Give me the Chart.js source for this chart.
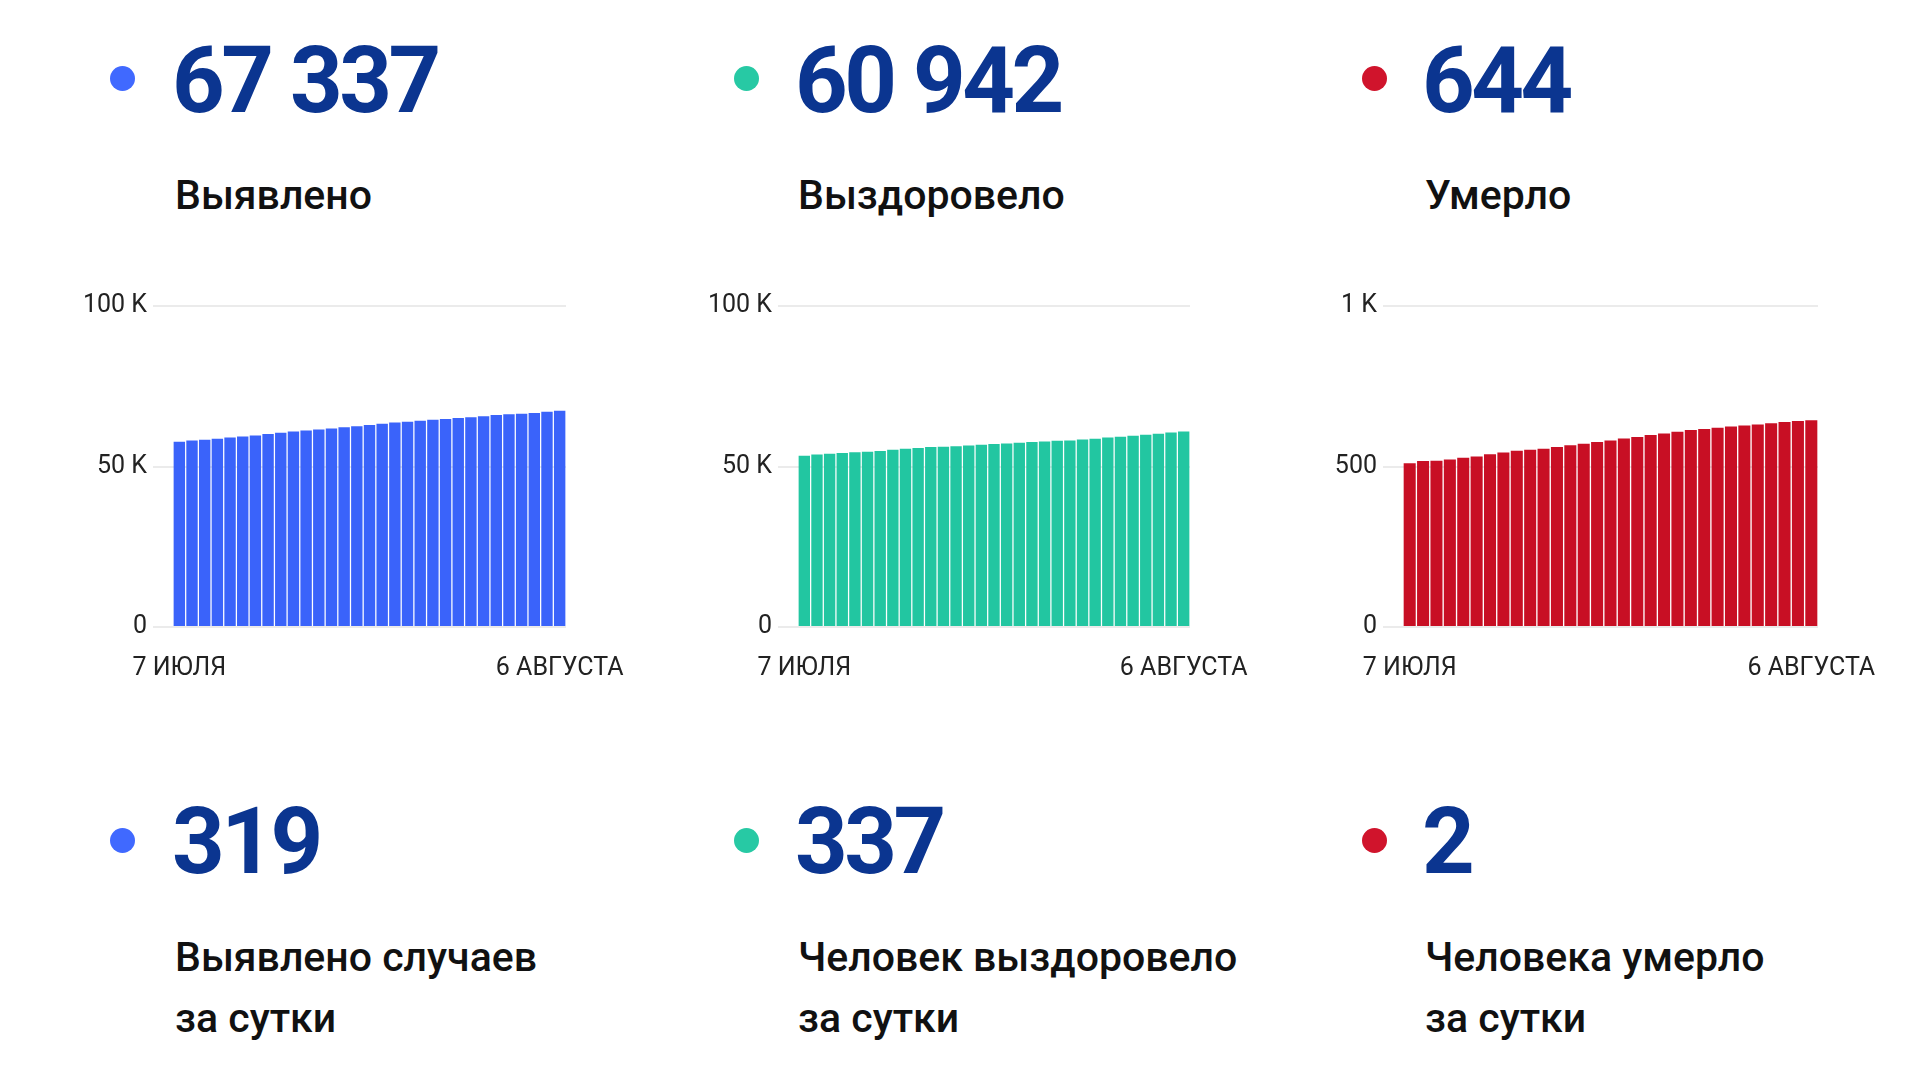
<!DOCTYPE html>
<html>
<head>
<meta charset="utf-8">
<script src="https://cdn.jsdelivr.net/npm/chart.js@4.4.0/dist/chart.umd.min.js"></script>
<style>
body { margin: 0; background: #fff; width: 1920px; height: 1080px; overflow: hidden; font-family: Roboto, sans-serif; }
.dot { position: absolute; width: 25px; height: 25px; border-radius: 50%; }
.num { position: absolute; font-size: 92px; line-height: 92px; font-weight: 700; color: #0b3590; letter-spacing: -3.5px; white-space: nowrap; }
.lbl { position: absolute; font-size: 41px; line-height: 61px; font-weight: 500; color: #111; white-space: nowrap; }
canvas { position: absolute; }
</style>
</head>
<body>
<div id="page"></div>
<canvas id="c1" style="left:63px; top:284px; width:588px; height:425px;"></canvas>
<canvas id="c2" style="left:688px; top:284px; width:587px; height:425px;"></canvas>
<canvas id="c3" style="left:1293px; top:284px; width:610px; height:425px;"></canvas>
<script>
var days = ['7 июля', '8 июля', '9 июля', '10 июля', '11 июля', '12 июля', '13 июля', '14 июля',
    '15 июля', '16 июля', '17 июля', '18 июля', '19 июля', '20 июля', '21 июля', '22 июля',
    '23 июля', '24 июля', '25 июля', '26 июля', '27 июля', '28 июля', '29 июля', '30 июля',
    '31 июля', '1 августа', '2 августа', '3 августа', '4 августа', '5 августа', '6 августа'];

var cases = [57690, 58120, 58340, 58670, 59000, 59330, 59660, 60100, 60540, 60870, 61200,
    61530, 61860, 62190, 62520, 62950, 63280, 63710, 63930, 64260, 64590, 64810, 65140,
    65360, 65690, 66020, 66240, 66460, 66700, 67018, 67337];

var recovered = [53340, 53710, 53955, 54200, 54445, 54570, 54815, 55185, 55555, 55800, 56045,
    56170, 56290, 56540, 56785, 57030, 57155, 57400, 57645, 57770, 58015, 58135, 58385,
    58630, 59000, 59245, 59615, 59860, 60230, 60605, 60942];

var deaths = [510, 517, 518, 522, 527, 531, 538, 544, 549, 552, 555, 561, 566, 571, 576, 581,
    587, 592, 598, 603, 608, 614, 617, 621, 625, 628, 631, 635, 639, 642, 644];

var totals = ['67 337', '60 942', '644'];
var totalNames = ['Выявлено', 'Выздоровело', 'Умерло'];
var daily = ['319', '337', '2'];
var dailyNames = [['Выявлено случаев', 'за сутки'], ['Человек выздоровело', 'за сутки'], ['Человека умерло', 'за сутки']];
var colors = ['#3a63fa', '#22c6a1', '#c80f24'];
var dotColors = ['#4069ff', '#27c9a4', '#d0142c'];

var colX = [175, 798, 1425];
var dotX = [110, 734, 1362];

var page = document.getElementById('page');
function add(cls, text, x, y, bg) {
    var d = document.createElement('div');
    d.className = cls;
    d.style.left = x + 'px';
    d.style.top = y + 'px';
    if (bg) d.style.background = bg;
    d.innerHTML = text;
    page.appendChild(d);
}
for (var i = 0; i < 3; i++) {
    add('dot', '', dotX[i], 66, dotColors[i]);
    add('num', totals[i], colX[i] - 3, 35);
    add('lbl', totalNames[i], colX[i], 165);
    add('dot', '', dotX[i], 828, dotColors[i]);
    add('num', daily[i], colX[i] - 3, 796);
    add('lbl', dailyNames[i].join('<br>'), colX[i], 927);
}

function makeChart(id, values, color, maxY, step) {
    var ctx = document.getElementById(id);
    return new Chart(ctx, {
        type: 'bar',
        data: {
            labels: days,
            datasets: [{
                data: values,
                backgroundColor: color,
                barPercentage: 0.9,
                categoryPercentage: 1.0
            }]
        },
        options: {
            responsive: false,
            animation: false,
            layout: { padding: { top: 22, right: 85, bottom: 6 } },
            plugins: { legend: { display: false }, tooltip: { enabled: false } },
            scales: {
                x: {
                    grid: { display: false },
                    border: { display: false },
                    ticks: {
                        autoSkip: false,
                        maxRotation: 0,
                        padding: 19,
                        color: '#222',
                        font: { family: 'Roboto', size: 25 },
                        callback: function(v, idx) {
                            if (idx === 0 || idx === days.length - 1) return days[idx].toUpperCase();
                            return '';
                        }
                    }
                },
                y: {
                    min: 0,
                    max: maxY,
                    afterFit: function(scale) { scale.width = 110; },
                    grid: { color: '#ebebeb', lineWidth: 2, tickLength: 20 },
                    border: { display: false },
                    ticks: {
                        stepSize: step,
                        padding: 6,
                        color: '#222',
                        font: { family: 'Roboto', size: 25 },
                        callback: function(v) { return v >= 1000 ? (v / 1000) + ' K' : v; }
                    }
                }
            }
        }
    });
}

document.fonts.load('25px Roboto').then(function() {
    makeChart('c1', cases, colors[0], 100000, 50000);
    makeChart('c2', recovered, colors[1], 100000, 50000);
    makeChart('c3', deaths, colors[2], 1000, 500);
});
</script>
</body>
</html>
